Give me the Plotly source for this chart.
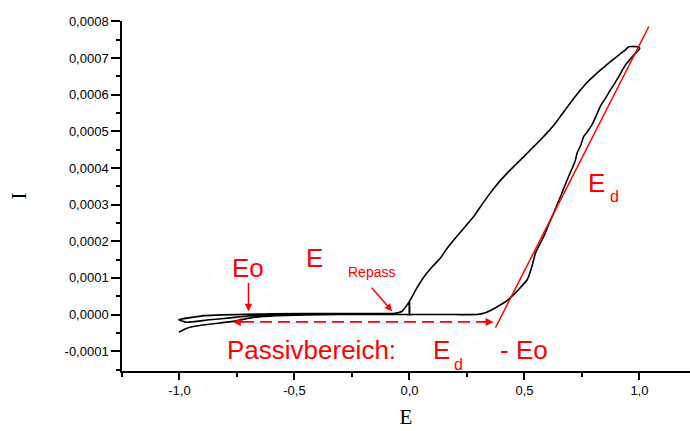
import plotly.graph_objects as go

# ---------------- data ----------------
# full cyclic scan: forward (lower) branch, then reverse (upper) branch, then start of next cycle
E_scan = [-1.003, -0.97, -0.95, -0.88, -0.76, -0.69, -0.58, -0.45, -0.30, -0.10, -0.01, 0.0, 0.0, 0.0,
          0.01, 0.20, 0.294, 0.33, 0.367, 0.40, 0.425, 0.454, 0.48, 0.512, 0.533, 0.548, 0.565,
          0.584, 0.605, 0.627, 0.657, 0.686, 0.705, 0.722, 0.729, 0.745, 0.758, 0.775, 0.794,
          0.812, 0.830, 0.852, 0.874, 0.892, 0.910, 0.925, 0.939, 0.958, 0.975, 0.997, 1.002,
          0.989, 0.953, 0.939, 0.910, 0.888, 0.855, 0.830, 0.800, 0.773, 0.743, 0.715, 0.686,
          0.660, 0.635, 0.600, 0.570, 0.535, 0.497, 0.460, 0.425, 0.390, 0.352, 0.315, 0.280,
          0.240, 0.200, 0.157, 0.135, 0.100, 0.062, 0.030, 0.004, -0.032, -0.070, -0.30, -0.60,
          -0.89, -1.003, -0.97, -0.88, -0.78, -0.70, -0.60, -0.50]
I_scan = [-0.000048, -0.000038, -0.000034, -0.000027, -0.000018, -0.000009, -0.000003, -0.000001,
          0.0, 0.0, 0.0, 0.0, 0.000036, 0.0,
          0.0, 0.0, 0.0, 0.000005, 0.000016, 0.000028, 0.000038, 0.000055, 0.000072, 0.000095,
          0.000132, 0.000168, 0.000190, 0.000213, 0.000245, 0.000277, 0.000322, 0.000368,
          0.000395, 0.000422, 0.000441, 0.000462, 0.000486, 0.000500, 0.000518, 0.000542,
          0.000568, 0.000590, 0.000613, 0.000630, 0.000649, 0.000666, 0.000681, 0.000695,
          0.000708, 0.000722, 0.000727, 0.000731, 0.000731, 0.000722, 0.000708, 0.000697,
          0.000680, 0.000667, 0.000650, 0.000634, 0.000612, 0.000590, 0.000566, 0.000544,
          0.000522, 0.000497, 0.000477, 0.000455, 0.000431, 0.000408, 0.000386, 0.000362,
          0.000332, 0.000300, 0.000268, 0.000238, 0.000209, 0.000175, 0.000154, 0.000131,
          0.000102, 0.000070, 0.000040, 0.000009, 0.000003, 0.000003, 0.000002, -0.000003,
          -0.000014, -0.000021, -0.000015, -0.000009, -0.000004, -0.000001, 0.0]

# red tangent line (Ed construction)
E_tangent = [0.374, 1.041]
I_tangent = [-0.000036, 0.000786]

# dashed passive-range arrow
E_passiv = [-0.768, 0.366]
I_passiv = [-0.000020, -0.000020]

# axis ticks
x_tickvals = [-1.0, -0.5, 0.0, 0.5, 1.0]
x_ticktext = ["-1,0", "-0,5", "0,0", "0,5", "1,0"]
y_tickvals = [-0.0001, 0.0, 0.0001, 0.0002, 0.0003, 0.0004, 0.0005, 0.0006, 0.0007, 0.0008]
y_ticktext = ["-0,0001", "0,0000", "0,0001", "0,0002", "0,0003", "0,0004",
              "0,0005", "0,0006", "0,0007", "0,0008"]

RED = "#FF0000"
SANS = "Liberation Sans, Arial, sans-serif"
SERIF = "Liberation Serif, Times New Roman, serif"

fig = go.Figure()
fig.add_trace(go.Scatter(x=E_scan, y=I_scan, mode="lines",
                         line=dict(color="black", width=1.6, shape="spline", smoothing=0.4),
                         showlegend=False, hoverinfo="skip"))
fig.add_trace(go.Scatter(x=E_tangent, y=I_tangent, mode="lines",
                         line=dict(color=RED, width=1.5), showlegend=False, hoverinfo="skip"))
# dashed shaft (ends short of the arrow tips)
fig.add_trace(go.Scatter(x=[E_passiv[0] + 0.04, E_passiv[1] - 0.04], y=I_passiv, mode="lines",
                         line=dict(color=RED, width=1.6, dash="12px,6px"),
                         showlegend=False, hoverinfo="skip"))

ann = []
# arrowheads of dashed arrow
ann.append(dict(x=E_passiv[0], y=I_passiv[0], ax=12, ay=0, text="", showarrow=True,
                arrowhead=2, arrowsize=1, arrowwidth=1.6, arrowcolor=RED, xref="x", yref="y"))
ann.append(dict(x=E_passiv[1], y=I_passiv[1], ax=-12, ay=0, text="", showarrow=True,
                arrowhead=2, arrowsize=1, arrowwidth=1.6, arrowcolor=RED, xref="x", yref="y"))
# Eo arrow
ann.append(dict(x=-0.70, y=0.000009, ax=-0.70, ay=0.000091, axref="x", ayref="y", text="",
                showarrow=True, arrowhead=2, arrowsize=1, arrowwidth=1.5, arrowcolor=RED))
# Repass arrow
ann.append(dict(x=-0.075, y=0.000009, ax=-0.170, ay=0.000077, axref="x", ayref="y", text="",
                showarrow=True, arrowhead=2, arrowsize=1, arrowwidth=1.5, arrowcolor=RED))

def label(txt, x, y, size, xanchor="center"):
    return dict(x=x, y=y, text=txt, showarrow=False, xanchor=xanchor, yanchor="middle",
                font=dict(family=SANS, size=size, color=RED))

ann.append(label("Eo", -0.702, 0.000128, 26))
ann.append(label("E", -0.413, 0.000154, 26))
ann.append(label("Repass", -0.167, 0.000115, 14))
ann.append(label("E", 0.815, 0.000358, 26))
ann.append(label("d", 0.891, 0.000322, 16))
ann.append(label("Passivbereich:", -0.425, -0.000096, 26))
ann.append(label("E", 0.139, -0.000096, 26))
ann.append(label("d", 0.212, -0.000137, 16))
ann.append(label("- Eo", 0.50, -0.000096, 26))

fig.update_layout(
    width=690, height=431,
    margin=dict(l=122, r=0, t=21, b=60),
    paper_bgcolor="white", plot_bgcolor="white",
    showlegend=False,
    annotations=ann,
    font=dict(family=SANS, size=13, color="black"),
)
fig.update_xaxes(
    range=[-1.25, 1.22], showgrid=False, zeroline=False,
    showline=True, linecolor="black", linewidth=1.5,
    ticks="outside", ticklen=7, tickwidth=1.5, tickcolor="black",
    tickvals=x_tickvals, ticktext=x_ticktext,
    tickfont=dict(family=SANS, size=13, color="black"),
    minor=dict(ticks="outside", ticklen=4, tickwidth=1.5, tickcolor="black", dtick=0.25, tick0=0,
               showgrid=False),
    title=dict(text="E", font=dict(family=SERIF, size=21, color="black"), standoff=12),
)
fig.update_yaxes(
    range=[-0.000154, 0.000801], showgrid=False, zeroline=False,
    showline=True, linecolor="black", linewidth=1.5,
    ticks="outside", ticklen=9, tickwidth=1.5, tickcolor="black",
    tickvals=y_tickvals, ticktext=y_ticktext,
    tickfont=dict(family=SANS, size=13, color="black"),
    minor=dict(ticks="outside", ticklen=4, tickwidth=1.5, tickcolor="black", dtick=0.00005,
               tick0=0, showgrid=False),
    title=dict(text="I", font=dict(family=SERIF, size=21, color="black"), standoff=32),
)

fig.write_html("out.html")
